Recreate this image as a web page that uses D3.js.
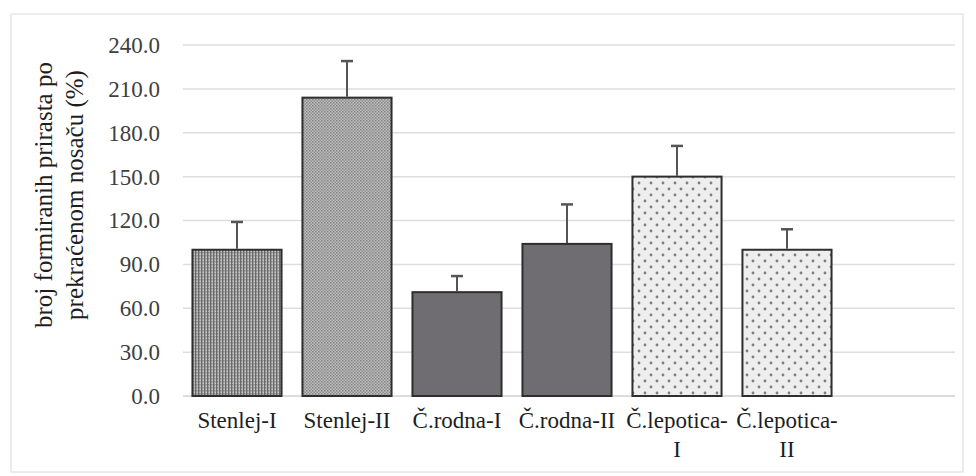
<!DOCTYPE html>
<html>
<head>
<meta charset="utf-8">
<script src="https://cdn.jsdelivr.net/npm/d3@7/dist/d3.min.js"></script>
<style>
  html, body { margin: 0; padding: 0; background: #fff; }
  svg { display: block; }
</style>
</head>
<body>
<svg id="chart" width="976" height="476"></svg>
<script>
// ---- data ----
const categories = ["Stenlej-I", "Stenlej-II", "Č.rodna-I", "Č.rodna-II", "Č.lepotica-I", "Č.lepotica-II"];
const values = [100, 204, 71, 104, 150, 100];
const errors = [19, 25, 11, 27, 21, 14];
const yTicks = [0, 30, 60, 90, 120, 150, 180, 210, 240];
const fillKeys = ["fine", "fineLight", "solid", "solid", "dots", "dots"];
const yTitle = ["broj formiranih prirasta po", "prekraćenom nosaču (%)"];

// ---- layout ----
const svg = d3.select("#chart");
const plot = { left: 183, right: 955, top: 45, bottom: 396 };
const font = "Liberation Serif, Times New Roman, serif";

// faint outer border
svg.append("rect")
  .attr("x", 11).attr("y", 14).attr("width", 952).attr("height", 458)
  .attr("fill", "none").attr("stroke", "#e6e6e6").attr("stroke-width", 1.5);

// patterns
const defs = svg.append("defs");
const pFine = defs.append("pattern").attr("id", "fine")
  .attr("patternUnits", "userSpaceOnUse").attr("width", 3).attr("height", 3);
pFine.append("rect").attr("width", 3).attr("height", 3).attr("fill", "#a0a0a0");
pFine.append("rect").attr("x", 0).attr("y", 0).attr("width", 1.5).attr("height", 3).attr("fill", "#686868");
pFine.append("rect").attr("x", 1.5).attr("y", 1.5).attr("width", 1.5).attr("height", 1.5).attr("fill", "#c8c8c8");

const pFineL = defs.append("pattern").attr("id", "fineLight")
  .attr("patternUnits", "userSpaceOnUse").attr("width", 3).attr("height", 3);
pFineL.append("rect").attr("width", 3).attr("height", 3).attr("fill", "#bcbcbc");
pFineL.append("rect").attr("x", 0).attr("y", 0).attr("width", 1.5).attr("height", 1.5).attr("fill", "#858585");
pFineL.append("rect").attr("x", 1.5).attr("y", 1.5).attr("width", 1.5).attr("height", 1.5).attr("fill", "#929292");

const pDots = defs.append("pattern").attr("id", "dots")
  .attr("patternUnits", "userSpaceOnUse").attr("width", 12).attr("height", 12);
pDots.append("rect").attr("width", 12).attr("height", 12).attr("fill", "#eeeeee");
pDots.append("circle").attr("cx", 3).attr("cy", 3).attr("r", 1.4).attr("fill", "#7e7e7e");
pDots.append("circle").attr("cx", 9).attr("cy", 9).attr("r", 1.4).attr("fill", "#7e7e7e");

const fills = { fine: "url(#fine)", fineLight: "url(#fineLight)", solid: "#6f6c72", dots: "url(#dots)" };

// scales
const step = 110;
const x = d3.scaleBand()
  .domain(categories)
  .range([plot.left - 1, plot.left - 1 + step * categories.length])
  .paddingInner(0.19)
  .paddingOuter(0.095);
const y = d3.scaleLinear().domain([0, 240]).range([plot.bottom, plot.top]);

// gridlines
svg.append("g").selectAll("line").data(yTicks).join("line")
  .attr("x1", plot.left).attr("x2", plot.right)
  .attr("y1", d => y(d)).attr("y2", d => y(d))
  .attr("stroke", d => d === 0 ? "#d0d0d0" : "#dedede")
  .attr("stroke-width", 1.5);

// y axis labels
const yAxis = d3.axisLeft(y).tickValues(yTicks).tickFormat(d3.format(".1f")).tickSize(0).tickPadding(23);
const gy = svg.append("g").attr("transform", `translate(${plot.left},0)`).call(yAxis);
gy.attr("font-family", font).attr("font-size", 23);
gy.select(".domain").remove();
gy.selectAll("text").attr("fill", "#404040");

// bars
const data = categories.map((c, i) => ({ c, v: values[i], e: errors[i], f: fillKeys[i] }));
svg.append("g").selectAll("rect").data(data).join("rect")
  .attr("x", d => x(d.c)).attr("width", x.bandwidth())
  .attr("y", d => y(d.v)).attr("height", d => y(0) - y(d.v))
  .attr("fill", d => fills[d.f])
  .attr("stroke", "#2e2e2e").attr("stroke-width", 2);

// error bars
const eb = svg.append("g").selectAll("g").data(data).join("g");
eb.append("line")
  .attr("x1", d => x(d.c) + x.bandwidth() / 2).attr("x2", d => x(d.c) + x.bandwidth() / 2)
  .attr("y1", d => y(d.v) - 1).attr("y2", d => y(d.v + d.e))
  .attr("stroke", "#555").attr("stroke-width", 2);
eb.append("line")
  .attr("x1", d => x(d.c) + x.bandwidth() / 2 - 6).attr("x2", d => x(d.c) + x.bandwidth() / 2 + 6)
  .attr("y1", d => y(d.v + d.e)).attr("y2", d => y(d.v + d.e))
  .attr("stroke", "#555").attr("stroke-width", 2.5);

// x axis labels (wrap after hyphen if too wide)
const gx = svg.append("g").attr("font-family", font).attr("font-size", 23).attr("fill", "#1e1e1e");
categories.forEach(c => {
  const cx = x(c) + x.bandwidth() / 2;
  const t = gx.append("text")
    .attr("x", cx).attr("y", plot.bottom + 32)
    .attr("text-anchor", "middle")
    .text(c);
  if (t.node().getComputedTextLength() > step * 0.93) {
    const idx = c.lastIndexOf("-");
    t.text(null);
    t.append("tspan").attr("x", cx).text(c.slice(0, idx + 1));
    t.append("tspan").attr("x", cx).attr("dy", 29).text(c.slice(idx + 1));
  }
});

// y title
const tc = 195;
yTitle.forEach((line, i) => {
  svg.append("text")
    .attr("transform", `translate(${52 + i * 31},${tc}) rotate(-90)`)
    .attr("text-anchor", "middle")
    .attr("font-family", font).attr("font-size", 25).attr("fill", "#1e1e1e")
    .text(line);
});
</script>
</body>
</html>
